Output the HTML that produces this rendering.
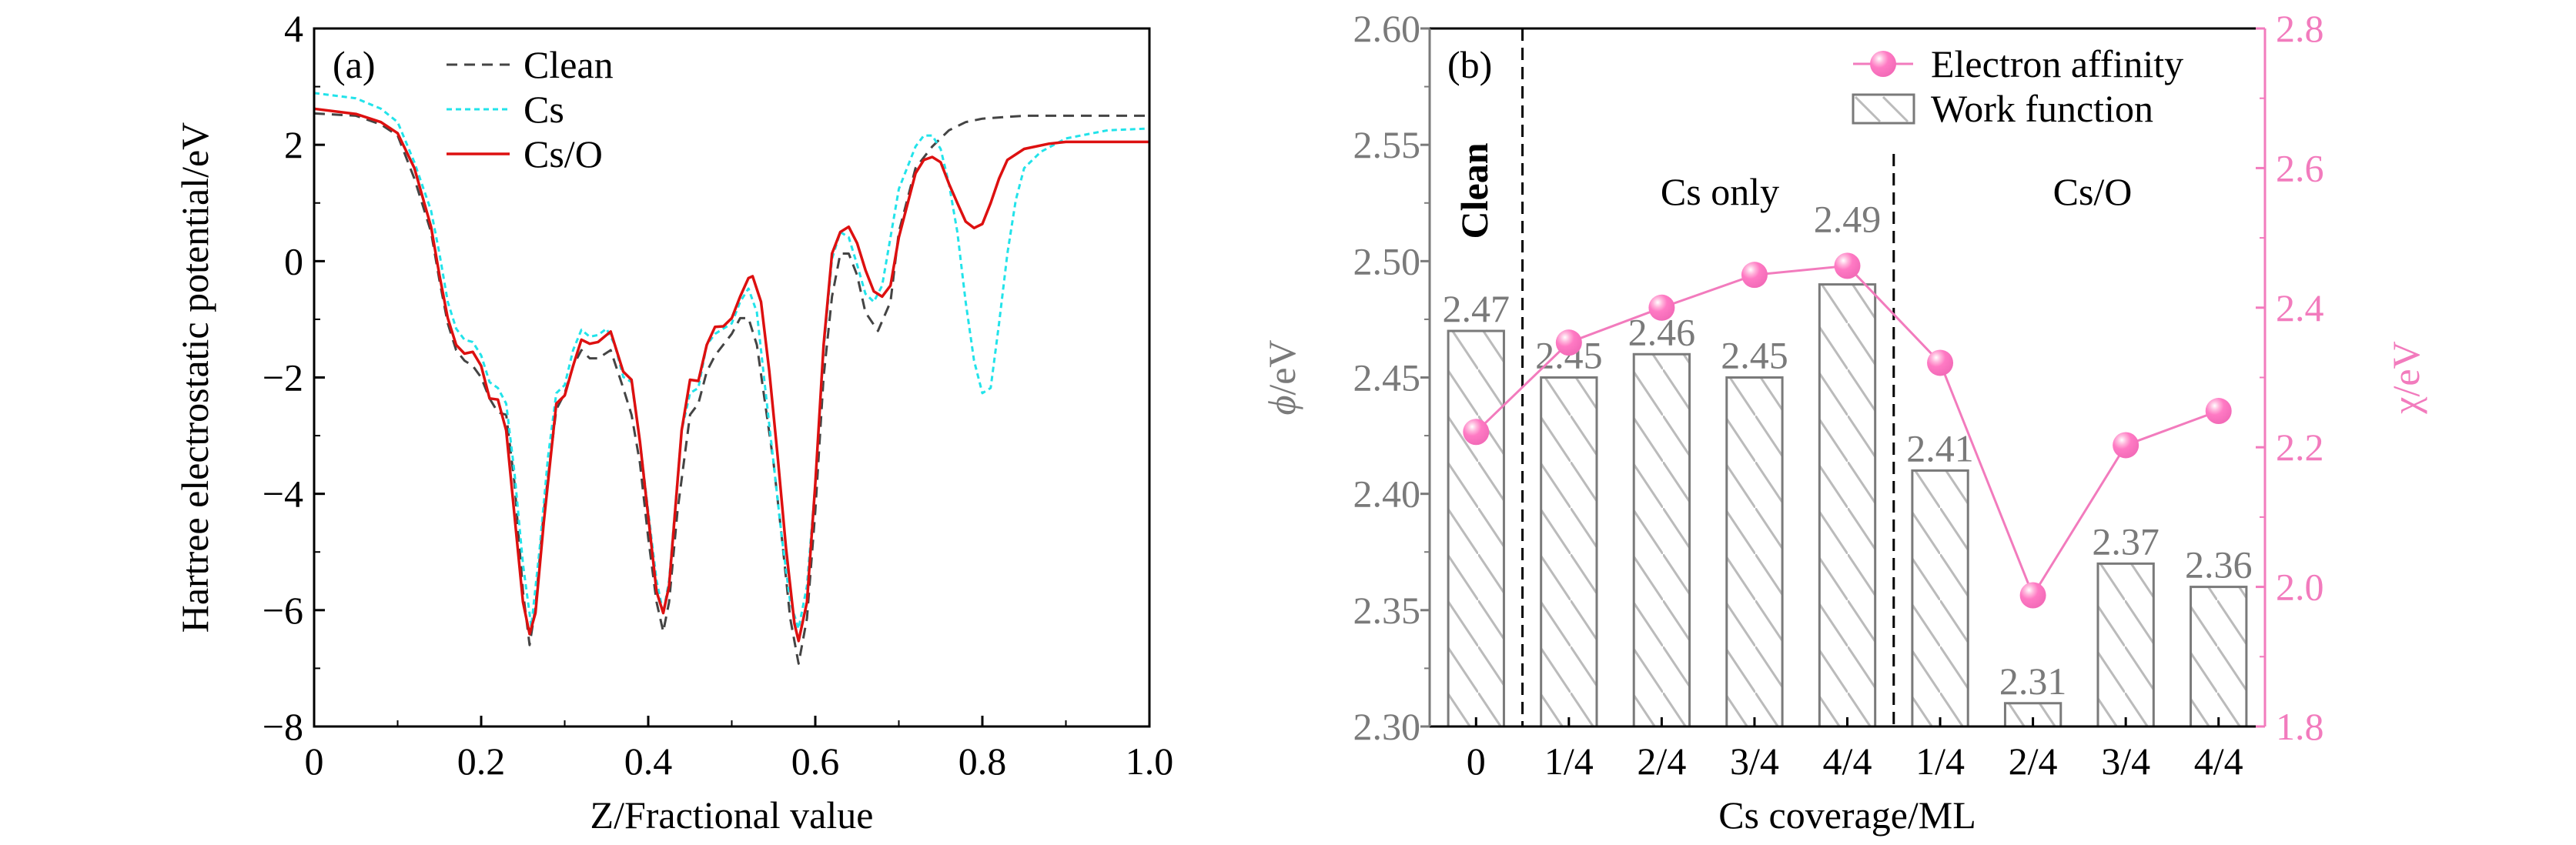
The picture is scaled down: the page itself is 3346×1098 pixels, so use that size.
<!DOCTYPE html>
<html><head><meta charset="utf-8"><style>
body{margin:0;background:#fff}
svg, svg text{font-family:"Liberation Serif","DejaVu Serif",serif}
</style></head><body>
<svg id="fig" width="3346" height="1093" viewBox="0 0 3346 1093" xmlns="http://www.w3.org/2000/svg" font-family="Liberation Serif, DejaVu Serif, serif">
<defs>
<pattern id="hatch" patternUnits="userSpaceOnUse" width="40" height="60">
<line x1="0" y1="0" x2="40" y2="60" stroke="#bbb" stroke-width="3"/>
</pattern>
<radialGradient id="ball" cx="0.35" cy="0.3" r="0.7">
<stop offset="0" stop-color="#fff"/><stop offset="0.25" stop-color="#ffb6dc"/><stop offset="0.5" stop-color="#ff7ac4"/><stop offset="1" stop-color="#f36bb8"/>
</radialGradient>
</defs>
<g id="pa"></g>
<g id="pb"></g>
</svg>
<script>
// ---------- Panel (a) data ----------
const zClean=[0,0.05,0.08,0.1,0.12,0.14,0.15,0.16,0.17,0.18,0.19,0.2,0.21,0.22,0.23,0.24,0.25,0.258,0.265,0.275,0.29,0.3,0.31,0.32,0.33,0.34,0.355,0.37,0.38,0.39,0.4,0.41,0.418,0.425,0.435,0.45,0.46,0.47,0.48,0.5,0.51,0.52,0.53,0.54,0.55,0.56,0.57,0.58,0.59,0.6,0.61,0.62,0.63,0.64,0.65,0.66,0.675,0.69,0.7,0.72,0.74,0.76,0.78,0.8,0.85,1.0];
const vClean=[2.54,2.5,2.35,2.16,1.42,0.5,-0.33,-1.07,-1.53,-1.71,-1.8,-2.0,-2.36,-2.6,-2.64,-3.83,-5.68,-6.6,-5.95,-4.3,-2.55,-2.27,-1.8,-1.53,-1.67,-1.67,-1.53,-2.18,-2.64,-3.47,-4.76,-5.86,-6.37,-5.86,-4.3,-2.64,-2.45,-1.9,-1.62,-1.25,-0.98,-0.98,-1.44,-2.45,-3.47,-4.76,-6.14,-6.92,-6.14,-4.3,-1.99,-0.61,0.13,0.13,-0.24,-0.88,-1.2,-0.7,0.5,1.6,1.97,2.25,2.39,2.45,2.5,2.5];
const zCs=[0,0.05,0.08,0.1,0.12,0.14,0.15,0.16,0.17,0.18,0.19,0.2,0.21,0.22,0.23,0.24,0.25,0.26,0.27,0.28,0.29,0.3,0.31,0.32,0.33,0.34,0.35,0.36,0.37,0.38,0.39,0.4,0.41,0.418,0.425,0.44,0.45,0.46,0.47,0.48,0.5,0.51,0.52,0.53,0.54,0.55,0.56,0.57,0.58,0.59,0.6,0.61,0.62,0.63,0.64,0.65,0.66,0.67,0.68,0.69,0.7,0.72,0.73,0.74,0.75,0.76,0.77,0.78,0.79,0.8,0.81,0.82,0.83,0.84,0.85,0.87,0.9,0.95,1.0];
const vCs=[2.89,2.8,2.62,2.39,1.7,0.87,0.13,-0.7,-1.16,-1.35,-1.39,-1.62,-2.08,-2.18,-2.45,-3.65,-5.21,-6.28,-4.94,-3.37,-2.27,-2.13,-1.53,-1.18,-1.3,-1.27,-1.16,-1.44,-1.99,-2.08,-3.1,-4.3,-5.49,-6.05,-5.49,-2.91,-2.27,-2.18,-1.44,-1.25,-1.07,-0.7,-0.47,-0.88,-2.18,-3.47,-4.76,-5.86,-6.32,-5.58,-3.83,-1.53,0.04,0.5,0.41,-0.06,-0.56,-0.7,-0.42,0.41,1.24,1.97,2.16,2.16,1.93,1.33,0.5,-0.7,-1.71,-2.27,-2.18,-1.07,0.13,1.05,1.6,1.88,2.11,2.25,2.28];
const zCsO=[0,0.05,0.08,0.1,0.12,0.14,0.15,0.16,0.17,0.18,0.19,0.2,0.21,0.22,0.23,0.24,0.25,0.258,0.265,0.275,0.29,0.3,0.31,0.32,0.33,0.34,0.355,0.37,0.38,0.39,0.4,0.41,0.418,0.425,0.44,0.45,0.46,0.47,0.48,0.49,0.5,0.51,0.52,0.525,0.535,0.545,0.555,0.565,0.575,0.58,0.59,0.6,0.61,0.62,0.63,0.64,0.65,0.66,0.67,0.68,0.69,0.7,0.72,0.73,0.74,0.75,0.76,0.77,0.78,0.79,0.8,0.81,0.82,0.83,0.85,0.88,0.9,1.0];
const vCsO=[2.62,2.53,2.39,2.2,1.6,0.59,-0.24,-0.98,-1.44,-1.59,-1.56,-1.8,-2.36,-2.38,-2.91,-4.39,-5.86,-6.41,-6.05,-4.48,-2.45,-2.31,-1.8,-1.35,-1.42,-1.39,-1.21,-1.9,-2.04,-3.1,-4.39,-5.68,-6.05,-5.58,-2.91,-2.04,-2.06,-1.44,-1.13,-1.12,-0.98,-0.61,-0.29,-0.26,-0.7,-1.9,-3.37,-4.94,-6.23,-6.53,-5.86,-3.83,-1.44,0.13,0.5,0.59,0.31,-0.15,-0.52,-0.61,-0.42,0.41,1.51,1.74,1.79,1.7,1.33,1.0,0.68,0.57,0.64,1.0,1.42,1.74,1.93,2.02,2.05,2.05];
const xTicksA=[0,0.2,0.4,0.6,0.8,1.0];
const xTickLabelsA=["0","0.2","0.4","0.6","0.8","1.0"];
const yTicksA=[-8,-6,-4,-2,0,2,4];
const yTickLabelsA=["\u22128","\u22126","\u22124","\u22122","0","2","4"];
// ---------- Panel (b) data ----------
const categories=["0","1/4","2/4","3/4","4/4","1/4","2/4","3/4","4/4"];
const workFunction=[2.47,2.45,2.46,2.45,2.49,2.41,2.31,2.37,2.36];
const workLabels=["2.47","2.45","2.46","2.45","2.49","2.41","2.31","2.37","2.36"];
const electronAffinity=[2.222,2.35,2.40,2.447,2.46,2.321,1.988,2.203,2.252];
const yTicksBL=[2.30,2.35,2.40,2.45,2.50,2.55,2.60];
const yTickLabelsBL=["2.30","2.35","2.40","2.45","2.50","2.55","2.60"];
const yTicksBR=[1.8,2.0,2.2,2.4,2.6,2.8];
const yTickLabelsBR=["1.8","2.0","2.2","2.4","2.6","2.8"];

const NS="http://www.w3.org/2000/svg";
const FF='Liberation Serif, DejaVu Serif, serif';
function mk(parent,tag,attrs,text){const e=document.createElementNS(NS,tag);if(tag==='text')e.setAttribute('font-family',FF);for(const k in attrs)e.setAttribute(k,attrs[k]);if(text!==undefined)e.textContent=text;parent.appendChild(e);return e;}
const FS=50;

// ---------- Panel (a) ----------
const pa=document.getElementById('pa');
const AL=408,AR=1493,AT=37,AB=944;
const ax=v=>AL+(v-0)/(1-0)*(AR-AL);
const ay=v=>AB-(v+8)/12*(AB-AT);
function pathD(xs,ys,fx,fy){return xs.map((x,i)=>(i?'L':'M')+fx(x).toFixed(1)+' '+fy(ys[i]).toFixed(1)).join(' ');}
let p;
p=mk(pa,'path',{d:pathD(zClean,vClean,ax,ay),fill:'none',stroke:'#444','stroke-width':3,'stroke-dasharray':'14 9','stroke-linejoin':'round'});


p=mk(pa,'path',{d:pathD(zCs,vCs,ax,ay),fill:'none',stroke:'#22e3ea','stroke-width':3,'stroke-dasharray':'7 5','stroke-linejoin':'round'});


p=mk(pa,'path',{d:pathD(zCsO,vCsO,ax,ay),fill:'none',stroke:'#dd1010','stroke-width':3.5,'stroke-linejoin':'round'});


p=mk(pa,'rect',{x:AL,y:AT,width:AR-AL,height:AB-AT,fill:'none',stroke:'#000','stroke-width':3});


xTicksA.forEach((t,i)=>{
  mk(pa,'line',{x1:ax(t),x2:ax(t),y1:AB,y2:AB-14,stroke:'#000','stroke-width':3});
  if(i<xTicksA.length-1){const m=t+0.1;mk(pa,'line',{x1:ax(m),x2:ax(m),y1:AB,y2:AB-8,stroke:'#000','stroke-width':2});}
  const l=mk(pa,'text',{x:ax(t),y:AB+62,'text-anchor':'middle','font-size':FS},xTickLabelsA[i]);
  
  
});
yTicksA.forEach((t,i)=>{
  mk(pa,'line',{x1:AL,x2:AL+14,y1:ay(t),y2:ay(t),stroke:'#000','stroke-width':3});
  if(i<yTicksA.length-1){mk(pa,'line',{x1:AL,x2:AL+8,y1:ay(t+1),y2:ay(t+1),stroke:'#000','stroke-width':2});}
  const l=mk(pa,'text',{x:AL-14,y:ay(t)+17,'text-anchor':'end','font-size':FS},yTickLabelsA[i]);
  
  
});
p=mk(pa,'text',{x:ax(0.5),y:1076,'text-anchor':'middle','font-size':FS},'Z/Fractional value');


p=mk(pa,'text',{x:0,y:0,'text-anchor':'middle','font-size':FS,transform:`translate(270,${(AT+AB)/2}) rotate(-90)`},'Hartree electrostatic potential/eV');


p=mk(pa,'text',{x:432,y:101,'font-size':FS},'(a)');


const legA=[['Clean','#444','14 9',3],['Cs','#22e3ea','7 5',3],['Cs/O','#dd1010','',3.5]];
legA.forEach((e,i)=>{
  const y=84+i*58;
  const g=mk(pa,'g',{});
  
  
  mk(g,'line',{x1:580,x2:662,y1:y,y2:y,stroke:e[1],'stroke-width':e[3],'stroke-dasharray':e[2]});
  mk(g,'text',{x:680,y:y+17,'font-size':FS},e[0]);
});

// ---------- Panel (b) ----------
const pb=document.getElementById('pb');
const BL=1857,BR=2942,BT=37,BB=944;
const band=(BR-BL)/categories.length;
const bx=i=>BL+(i+0.5)*band;
const byL=v=>BB-(v-2.30)/0.30*(BB-BT);
const byR=v=>BB-(v-1.8)/1.0*(BB-BT);
const gray='#7a7a7a', pink='#f27bbd';
p=mk(pb,'line',{x1:BL+band,x2:BL+band,y1:BT,y2:BB,stroke:'#000','stroke-width':3,'stroke-dasharray':'16 9'});


p=mk(pb,'line',{x1:BL+5*band,x2:BL+5*band,y1:200,y2:BB,stroke:'#000','stroke-width':3,'stroke-dasharray':'16 9'});


const bw=band*0.6;
workFunction.forEach((v,i)=>{
  const r=mk(pb,'rect',{x:bx(i)-bw/2,y:byL(v),width:bw,height:BB-byL(v),fill:'url(#hatch)',stroke:gray,'stroke-width':3});
  
  
  const lift=(i===4)?56:0;
  const t=mk(pb,'text',{x:bx(i),y:byL(v)-12-lift,'text-anchor':'middle','font-size':FS,fill:gray},workLabels[i]);
  
  
});
p=mk(pb,'path',{d:electronAffinity.map((v,i)=>(i?'L':'M')+bx(i).toFixed(1)+' '+byR(v).toFixed(1)).join(' '),fill:'none',stroke:pink,'stroke-width':3});


electronAffinity.forEach((v,i)=>{
  const c=mk(pb,'circle',{cx:bx(i),cy:byR(v),r:17,fill:'url(#ball)'});
  
  
});
mk(pb,'line',{x1:BL,x2:BR,y1:BT,y2:BT,stroke:'#000','stroke-width':3});
mk(pb,'line',{x1:BL,x2:BR,y1:BB,y2:BB,stroke:'#000','stroke-width':3});
p=mk(pb,'line',{x1:BL,x2:BL,y1:BT,y2:BB,stroke:gray,'stroke-width':3});


p=mk(pb,'line',{x1:BR,x2:BR,y1:BT,y2:BB,stroke:pink,'stroke-width':3});


categories.forEach((c,i)=>{
  mk(pb,'line',{x1:bx(i),x2:bx(i),y1:BB,y2:BB-12,stroke:'#000','stroke-width':3});
  const t=mk(pb,'text',{x:bx(i),y:BB+62,'text-anchor':'middle','font-size':FS},c);
  
  
});
yTicksBL.forEach((t,i)=>{
  mk(pb,'line',{x1:BL,x2:BL-12,y1:byL(t),y2:byL(t),stroke:gray,'stroke-width':3});
  if(i<yTicksBL.length-1)mk(pb,'line',{x1:BL,x2:BL-7,y1:byL(t+0.025),y2:byL(t+0.025),stroke:gray,'stroke-width':2});
  const l=mk(pb,'text',{x:BL-12,y:byL(t)+17,'text-anchor':'end','font-size':FS,fill:gray},yTickLabelsBL[i]);
  
  
});
yTicksBR.forEach((t,i)=>{
  mk(pb,'line',{x1:BR,x2:BR-12,y1:byR(t),y2:byR(t),stroke:pink,'stroke-width':3});
  if(i<yTicksBR.length-1)mk(pb,'line',{x1:BR,x2:BR-7,y1:byR(t+0.1),y2:byR(t+0.1),stroke:pink,'stroke-width':2});
  const l=mk(pb,'text',{x:BR+14,y:byR(t)+17,'text-anchor':'start','font-size':FS,fill:pink},yTickLabelsBR[i]);
  
  
});
p=mk(pb,'text',{x:(BL+BR)/2,y:1076,'text-anchor':'middle','font-size':FS},'Cs coverage/ML');


p=mk(pb,'text',{x:0,y:0,'text-anchor':'middle','font-size':FS,fill:gray,transform:`translate(1682,${(BT+BB)/2}) rotate(-90)`});
p.innerHTML='<tspan font-style="italic">ϕ</tspan>/eV';


p=mk(pb,'text',{x:0,y:0,'text-anchor':'middle','font-size':FS,fill:pink,transform:`translate(3142,${(BT+BB)/2}) rotate(-90)`},'χ/eV');


p=mk(pb,'text',{x:1880,y:101,'font-size':FS},'(b)');


p=mk(pb,'text',{x:0,y:0,'text-anchor':'middle','font-size':FS,'font-weight':'bold',transform:'translate(1932,248) rotate(-90)'},'Clean');


p=mk(pb,'text',{x:2234,y:266,'text-anchor':'middle','font-size':FS},'Cs only');


p=mk(pb,'text',{x:2718,y:266,'text-anchor':'middle','font-size':FS},'Cs/O');


let g=mk(pb,'g',{});


mk(g,'line',{x1:2407,x2:2485,y1:83,y2:83,stroke:pink,'stroke-width':3});
mk(g,'circle',{cx:2446,cy:83,r:17,fill:'url(#ball)'});
mk(g,'text',{x:2508,y:100,'font-size':FS},'Electron affinity');
g=mk(pb,'g',{});


mk(g,'rect',{x:2407,y:123,width:79,height:37,fill:'#fff',stroke:gray,'stroke-width':3});
mk(g,'line',{x1:2410,x2:2442,y1:126,y2:158,stroke:'#bbb','stroke-width':3});
mk(g,'line',{x1:2446,x2:2478,y1:126,y2:158,stroke:'#bbb','stroke-width':3});
mk(g,'text',{x:2508,y:158,'font-size':FS},'Work function');
</script>
</body></html>
